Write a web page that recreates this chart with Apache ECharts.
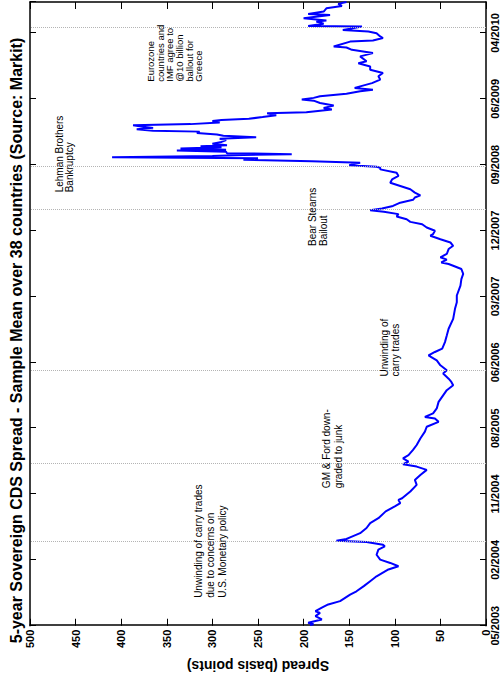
<!DOCTYPE html>
<html>
<head>
<meta charset="utf-8">
<script src="https://cdn.jsdelivr.net/npm/echarts@6/dist/echarts.min.js"></script>
<style>
  html, body { margin: 0; padding: 0; width: 503px; height: 681px; overflow: hidden; background: #fff; }
  #wrap { position: absolute; left: 0; top: 0; width: 681px; height: 503px;
          transform-origin: 0 0; transform: translateY(681px) rotate(-90deg); }
</style>
</head>
<body>
<div id="wrap"></div>
<script>
// Start date of the series (day 0): 2003-05-05. x values are days since start.
const startDate = '2003-05-05';
const tickStepDays = 281;
const dateTickLabels = ['05/2003','02/2004','11/2004','08/2005','06/2006','03/2007','12/2007','09/2008','06/2009','04/2010'];
const spreadTicksMax = 500;

const days = [3,6,13,27,41,55,62,77,91,105,133,147,169,190,211,240,254,268,282,303,325,339,346,357,363,370,377,395,417,438,459,488,509,523,537,544,573,601,622,643,665,679,689,700,714,728,750,771,799,828,849,870,884,891,906,927,955,983,1005,1026,1040,1054,1076,1090,1111,1132,1146,1153,1168,1182,1210,1238,1267,1309,1352,1380,1409,1451,1479,1501,1522,1536,1543,1550,1562,1572,1586,1607,1621,1635,1649,1664,1671,1685,1699,1713,1723,1734,1746,1756,1766,1773,1780,1791,1805,1817,1827,1836,1848,1862,1876,1890,1904,1919,1933,1947,1954,1958,1965,1975,1982,1988,1994,1999,2004,2008,2012,2016,2022,2027,2031,2036,2041,2046,2050,2056,2064,2072,2078,2084,2090,2096,2102,2108,2112,2118,2124,2130,2135,2140,2147,2153,2158,2163,2170,2178,2186,2191,2202,2209,2219,2230,2240,2245,2252,2259,2270,2280,2287,2294,2301,2315,2330,2344,2358,2372,2386,2400,2408,2429,2443,2457,2467,2471,2492,2497,2507,2514,2528,2535,2542,2556,2559,2568,2578,2582,2592,2606,2610,2620,2634,2644,2653,2661];
const spread = [193,189,195,180,187,182,187,180,173,160,149,142,134,127,120,107,96,105,116,120,118,111,113,131,164,153,149,138,131,127,118,110,100,94,96,92,83,76,78,72,65,76,91,85,91,85,80,76,72,67,65,52,56,67,58,54,52,47,43,36,38,41,47,43,50,54,60,63,56,48,45,43,41,36,34,32,32,28,27,25,27,36,41,49,43,50,43,41,36,39,50,61,58,56,65,70,83,87,98,96,112,127,114,102,94,80,78,72,78,83,94,105,103,96,98,116,116,120,150,138,191,266,250,410,300,266,213,284,285,339,285,335,290,313,284,300,290,285,292,252,288,295,317,314,365,383,365,378,387,324,292,300,290,260,245,230,240,197,169,178,167,182,189,202,189,182,153,138,124,144,138,125,116,118,113,127,127,140,131,138,124,147,153,167,149,124,113,116,120,129,157,136,195,178,186,175,200,171,195,178,175,158,162,153];

const eventDates = ['2004-04-29','2005-03-28','2006-04-26','2008-03-12','2008-09-13','2010-05-01'];
const noteTexts = [
  'Unwinding of carry trades\ndue to concerns on\nU.S. Monetary policy',
  'GM & Ford down-\ngraded to junk',
  'Unwinding of\ncarry trades',
  'Bear Stearns\nBailout',
  'Lehman Brothers\nBankruptcy',
  'Eurozone\ncountries and\nIMF agree to\n@10 billion\nballout for\nGreece'
];
const noteDays = [119, 587, 1063, 1620, 1849, 2321];
const noteSpreads = [322, 181, 118, 197, 473, 373];
const noteFontSizes = [10, 10, 10, 10, 10, 9.5];
const noteLineHeights = [12, 11.5, 11.5, 11.5, 10, 9.6];

function daysSince(d) {
  return Math.round((Date.parse(d) - Date.parse(startDate)) / 86400000);
}
const eventDays = eventDates.map(daysSince);
const xMax = 2661;

const chart = echarts.init(document.getElementById('wrap'), null, { renderer: 'svg', width: 681, height: 503 });
const font = '"Liberation Sans", Arial, Helvetica, sans-serif';
const axisCommon = {
  axisLine: { onZero: false, lineStyle: { color: '#000', width: 1.5 } },
  axisTick: { inside: true, length: 6, lineStyle: { color: '#000', width: 1 } },
  splitLine: { show: false }
};
chart.setOption({
  animation: false,
  backgroundColor: '#fff',
  title: {
    text: '5-year Sovereign CDS Spread - Sample Mean over 38 countries (Source: Markit)',
    left: 'center', top: 3,
    textStyle: { fontFamily: font, fontWeight: 'bold', fontSize: 16, color: '#000' }
  },
  grid: { left: 53, right: 2, top: 30, bottom: 17 },
  xAxis: [
    Object.assign({
      type: 'value', position: 'bottom', min: 0, max: xMax, interval: tickStepDays,
      axisLabel: {
        fontFamily: font, fontWeight: 'bold', fontSize: 11, color: '#000', margin: 3,
        showMaxLabel: false,
        formatter: v => (v % tickStepDays === 0 ? (dateTickLabels[v / tickStepDays] || '') : '')
      }
    }, axisCommon),
    Object.assign({
      type: 'value', position: 'top', min: 0, max: xMax, interval: tickStepDays,
      axisLabel: { show: false }
    }, axisCommon)
  ],
  yAxis: [
    Object.assign({
      type: 'value', position: 'left', min: 0, max: spreadTicksMax, interval: 50,
      name: 'Spread (basis points)', nameLocation: 'middle', nameGap: 30,
      nameTextStyle: { fontFamily: font, fontWeight: 'bold', fontSize: 14, color: '#000' },
      axisLabel: { fontFamily: font, fontWeight: 'bold', fontSize: 11, color: '#000', margin: 4 }
    }, axisCommon, { axisTick: { inside: true, length: 7, lineStyle: { color: '#000' } } }),
    Object.assign({
      type: 'value', position: 'right', min: 0, max: spreadTicksMax, interval: 50,
      axisLabel: { show: false }
    }, axisCommon, { axisTick: { inside: true, length: 7, lineStyle: { color: '#000' } } })
  ],
  series: [{
    type: 'line',
    data: days.map((d, i) => [d, spread[i]]),
    showSymbol: false,
    symbol: 'none',
    lineStyle: { color: '#0000ff', width: 2 },
    z: 3,
    markLine: {
      silent: true,
      symbol: ['none', 'none'],
      label: { show: false },
      lineStyle: { color: '#b4b4b4', type: 'dotted', width: 1 },
      data: eventDays.map(d => ({ xAxis: d }))
    }
  }]
});

const graphics = noteTexts.map((t, i) => {
  const p = chart.convertToPixel({ xAxisIndex: 0, yAxisIndex: 0 }, [noteDays[i], noteSpreads[i]]);
  return {
    type: 'text', x: p[0], y: p[1], z: 10,
    style: {
      text: t, fill: '#000', font: noteFontSizes[i] + 'px ' + font,
      textAlign: 'left', textVerticalAlign: 'top', lineHeight: noteLineHeights[i]
    }
  };
});
chart.setOption({ graphic: graphics });
</script>
</body>
</html>
